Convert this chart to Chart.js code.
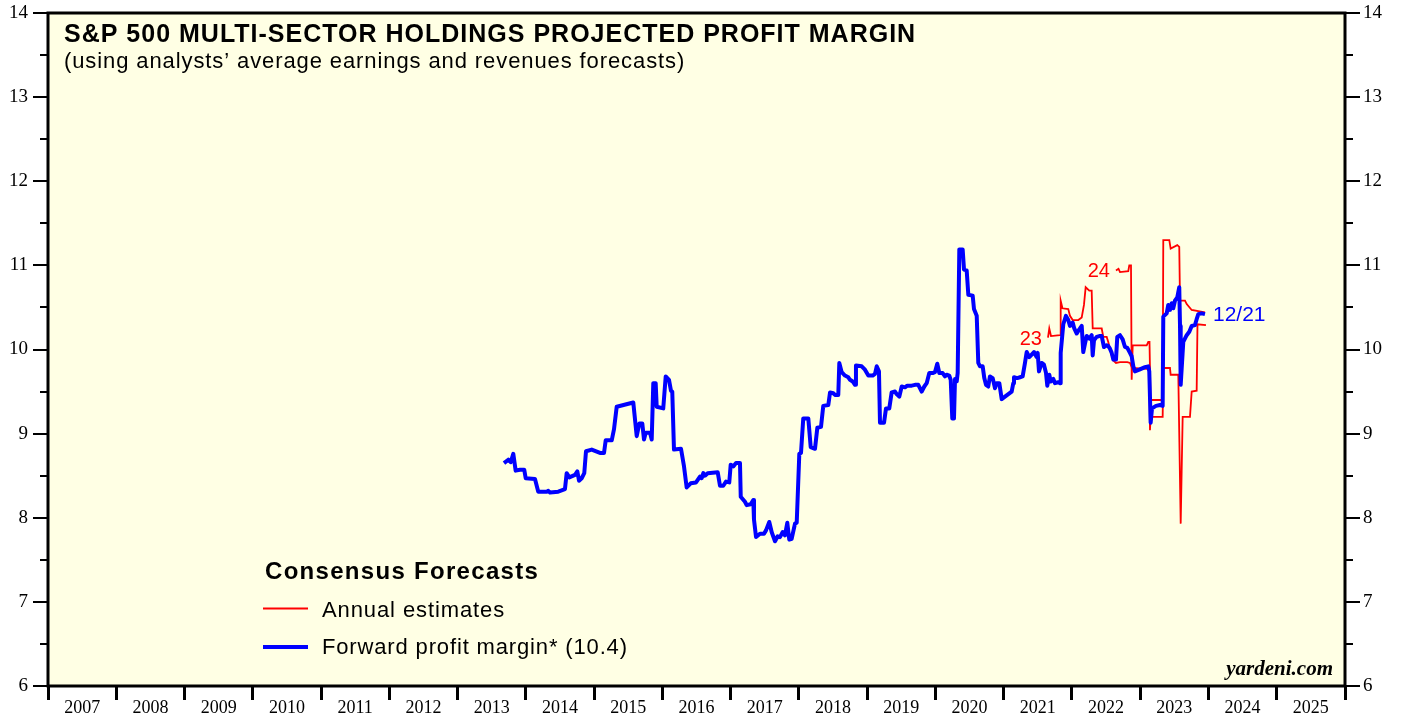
<!DOCTYPE html>
<html>
<head>
<meta charset="utf-8">
<script src="https://cdn.jsdelivr.net/npm/chart.js@4.4.1/dist/chart.umd.min.js"></script>
<style>
html,body{margin:0;padding:0;background:#ffffff;}
#wrap{width:1403px;height:719px;position:relative;}
</style>
</head>
<body>
<div id="wrap"><canvas id="c" width="1403" height="719"></canvas></div>
<script>
// ---------- DATA ----------
const yearLabels = ['2007','2008','2009','2010','2011','2012','2013','2014','2015','2016','2017','2018','2019','2020','2021','2022','2023','2024','2025'];
const yTickValues = [6,7,8,9,10,11,12,13,14];

// Forward profit margin (decimal year, %)
const blueDates = [2013.680,2013.743,2013.778,2013.816,2013.851,2013.914,2013.977,2013.998,2014.134,2014.182,
2014.306,2014.329,2014.354,2014.475,2014.573,2014.598,2014.637,2014.720,2014.754,2014.779,
2014.818,2014.856,2014.881,2014.965,2015.086,2015.145,2015.170,2015.258,2015.291,2015.331,
2015.574,2015.624,2015.662,2015.706,2015.731,2015.756,2015.819,2015.844,2015.867,2015.902,
2015.917,2016.013,2016.049,2016.097,2016.126,2016.145,2016.170,2016.273,2016.317,2016.356,
2016.415,2016.493,2016.551,2016.576,2016.600,2016.624,2016.664,2016.811,2016.844,2016.892,
2016.932,2016.980,2017.001,2017.039,2017.079,2017.137,2017.148,2017.210,2017.235,2017.294,
2017.332,2017.342,2017.372,2017.430,2017.489,2017.518,2017.566,2017.601,2017.650,2017.689,
2017.723,2017.763,2017.796,2017.830,2017.859,2017.894,2017.943,2017.968,2018.006,2018.031,
2018.064,2018.138,2018.173,2018.236,2018.270,2018.324,2018.357,2018.431,2018.456,2018.504,
2018.529,2018.577,2018.592,2018.627,2018.675,2018.724,2018.749,2018.788,2018.822,2018.836,
2018.920,2018.968,2019.017,2019.081,2019.115,2019.140,2019.173,2019.188,2019.247,2019.276,
2019.324,2019.359,2019.408,2019.432,2019.471,2019.506,2019.554,2019.588,2019.652,2019.701,
2019.749,2019.799,2019.837,2019.872,2019.910,2019.960,2019.993,2020.027,2020.057,2020.106,
2020.140,2020.165,2020.203,2020.224,2020.247,2020.272,2020.287,2020.312,2020.326,2020.350,
2020.399,2020.419,2020.458,2020.482,2020.546,2020.565,2020.605,2020.628,2020.653,2020.692,
2020.716,2020.741,2020.774,2020.799,2020.839,2020.873,2020.897,2020.936,2020.971,2021.019,
2021.068,2021.117,2021.141,2021.151,2021.199,2021.239,2021.278,2021.312,2021.337,2021.375,
2021.410,2021.444,2021.483,2021.498,2021.517,2021.557,2021.590,2021.620,2021.639,2021.668,
2021.689,2021.727,2021.752,2021.800,2021.825,2021.835,2021.873,2021.912,2021.946,2021.971,
2022.011,2022.034,2022.070,2022.108,2022.143,2022.166,2022.191,2022.216,2022.254,2022.289,
2022.304,2022.323,2022.362,2022.401,2022.436,2022.469,2022.509,2022.532,2022.557,2022.582,
2022.606,2022.645,2022.664,2022.704,2022.743,2022.777,2022.811,2022.850,2022.875,2022.899,
2022.923,2022.987,2023.070,2023.118,2023.133,2023.153,2023.173,2023.231,2023.290,2023.329,
2023.338,2023.388,2023.411,2023.436,2023.461,2023.484,2023.509,2023.543,2023.572,2023.583,
2023.593,2023.631,2023.681,2023.719,2023.754,2023.802,2023.827,2023.851,2023.900,2023.949];
const blueValues = [8.65,8.69,8.66,8.76,8.56,8.57,8.57,8.47,8.46,8.31,
8.31,8.32,8.30,8.31,8.34,8.53,8.48,8.51,8.55,8.44,
8.47,8.53,8.79,8.81,8.77,8.77,8.92,8.92,9.05,9.32,
9.37,8.97,9.12,9.12,8.93,9.01,9.01,8.93,9.60,9.60,
9.32,9.30,9.68,9.64,9.51,9.50,8.81,8.82,8.61,8.36,
8.41,8.42,8.49,8.47,8.53,8.50,8.53,8.54,8.38,8.38,
8.43,8.42,8.63,8.61,8.65,8.65,8.25,8.19,8.15,8.16,
8.21,7.98,7.77,7.81,7.81,7.85,7.95,7.83,7.72,7.78,
7.77,7.83,7.79,7.94,7.74,7.75,7.93,7.94,8.76,8.77,
9.18,9.18,8.84,8.82,9.07,9.08,9.33,9.34,9.49,9.48,
9.46,9.46,9.84,9.73,9.69,9.67,9.64,9.62,9.58,9.81,
9.80,9.76,9.69,9.69,9.71,9.80,9.74,9.13,9.13,9.30,
9.30,9.49,9.50,9.47,9.44,9.56,9.55,9.57,9.57,9.58,
9.58,9.50,9.56,9.60,9.72,9.72,9.73,9.83,9.72,9.72,
9.68,9.70,9.69,9.64,9.18,9.18,9.65,9.62,9.72,11.19,
11.19,10.95,10.94,10.65,10.64,10.48,10.40,9.84,9.80,9.80,
9.66,9.58,9.56,9.68,9.66,9.54,9.60,9.60,9.41,9.44,
9.47,9.50,9.60,9.67,9.66,9.67,9.68,9.84,9.97,9.91,
9.94,9.97,9.91,9.96,9.74,9.84,9.82,9.72,9.57,9.70,
9.62,9.65,9.60,9.61,9.60,9.96,10.30,10.40,10.35,10.28,
10.32,10.25,10.19,10.24,10.28,9.97,10.07,10.16,10.13,10.17,
9.93,10.11,10.15,10.16,10.16,10.03,10.05,10.04,10.01,9.96,
9.88,9.88,10.15,10.17,10.12,10.03,10.02,9.96,9.92,9.80,
9.74,9.76,9.79,9.80,9.74,9.13,9.30,9.33,9.34,9.33,
10.39,10.43,10.53,10.47,10.55,10.49,10.58,10.62,10.74,10.28,
9.58,10.09,10.17,10.21,10.28,10.29,10.36,10.42,10.43,10.42];

// Annual estimates: 2023
const est23Dates = [2021.649,2021.668,2021.693,2021.825,2021.835,2021.861,2021.946,2021.971,2022.011,2022.093,
2022.143,2022.176,2022.201,2022.254,2022.289,2022.304,2022.436,2022.459,2022.509,2022.532,
2022.582,2022.606,2022.645,2022.704,2022.811,2022.850,2022.880,2023.095,2023.133,2023.143,
2023.153,2023.329,2023.338,2023.436,2023.446,2023.558,2023.593,2023.622,2023.729,2023.754,
2023.827,2023.839,2023.963];
const est23Values = [10.14,10.25,10.16,10.17,10.58,10.49,10.48,10.40,10.35,10.35,
10.38,10.53,10.74,10.70,10.70,10.25,10.25,10.15,10.15,10.09,
9.93,9.87,9.84,9.85,9.85,9.84,9.78,9.77,9.78,9.04,
9.20,9.20,9.78,9.78,9.70,9.70,7.93,9.20,9.20,9.50,
9.51,10.30,10.29];

// Annual estimates: 2024
const est24Dates = [2022.645,2022.682,2022.704,2022.825,2022.840,2022.865,2022.875,2022.890,2023.095,2023.118,
2023.136,2023.151,2023.329,2023.338,2023.426,2023.446,2023.543,2023.572,2023.583,2023.656,
2023.681,2023.754,2023.949];
const est24Values = [10.94,10.96,10.92,10.93,11.00,11.00,9.64,10.05,10.05,10.09,
10.09,9.40,9.40,11.30,11.30,11.20,11.24,11.22,10.58,10.58,
10.54,10.47,10.44];

const toPoints = (xs, ys) => xs.map((x, i) => ({x: x, y: ys[i]}));

function spacedText(ctx, text, x, y, spacing) {
  if ('letterSpacing' in ctx) {
    ctx.letterSpacing = spacing + 'px';
    ctx.fillText(text, x, y);
    ctx.letterSpacing = '0px';
  } else {
    ctx.fillText(text, x, y);
  }
}

// ---------- DECORATION PLUGIN ----------
const decor = {
  id: 'decor',
  beforeDraw(chart) {
    const {ctx, chartArea: a} = chart;
    ctx.save();
    ctx.fillStyle = '#FFFFE4';
    ctx.fillRect(a.left, a.top, a.right - a.left, a.bottom - a.top);
    ctx.restore();
  },
  afterDraw(chart) {
    const {ctx, chartArea: a} = chart;
    const xs = chart.scales.x, ys = chart.scales.y;
    ctx.save();
    // minor y ticks (half units)
    ctx.strokeStyle = '#000';
    ctx.lineWidth = 2;
    for (let i = 0; i < yTickValues.length - 1; i++) {
      const py = Math.round(ys.getPixelForValue(yTickValues[i] + 0.5));
      ctx.beginPath();
      ctx.moveTo(a.left - 8, py); ctx.lineTo(a.left, py);
      ctx.moveTo(a.right, py); ctx.lineTo(a.right + 8, py);
      ctx.stroke();
    }
    // frame
    ctx.lineWidth = 3;
    ctx.strokeRect(a.left, a.top, a.right - a.left, a.bottom - a.top);

    // titles
    ctx.fillStyle = '#000';
    ctx.textAlign = 'left';
    ctx.textBaseline = 'alphabetic';
    ctx.font = 'bold 25px "Liberation Sans", Arial, sans-serif';
    spacedText(ctx, 'S&P 500 MULTI-SECTOR HOLDINGS PROJECTED PROFIT MARGIN', 64, 42, 1);
    ctx.font = '22px "Liberation Sans", Arial, sans-serif';
    spacedText(ctx, '(using analysts\u2019 average earnings and revenues forecasts)', 64, 68, 0.9);

    // legend
    ctx.font = 'bold 24px "Liberation Sans", Arial, sans-serif';
    spacedText(ctx, 'Consensus Forecasts', 265, 579, 1.3);
    ctx.lineCap = 'butt';
    ctx.strokeStyle = '#FF0000';
    ctx.lineWidth = 2;
    ctx.beginPath(); ctx.moveTo(263, 608.5); ctx.lineTo(308, 608.5); ctx.stroke();
    ctx.strokeStyle = '#0000FF';
    ctx.lineWidth = 4;
    ctx.beginPath(); ctx.moveTo(263, 647); ctx.lineTo(308, 647); ctx.stroke();
    ctx.font = '22px "Liberation Sans", Arial, sans-serif';
    ctx.fillStyle = '#000';
    spacedText(ctx, 'Annual estimates', 322, 617, 0.9);
    spacedText(ctx, 'Forward profit margin* (10.4)', 322, 654, 0.85);

    // series annotations anchored on data
    ctx.font = '20px "Liberation Sans", Arial, sans-serif';
    ctx.fillStyle = '#FF0000';
    ctx.textAlign = 'right';
    ctx.fillText('23', xs.getPixelForValue(est23Dates[0]) - 6, ys.getPixelForValue(est23Values[0]) + 7);
    ctx.fillText('24', xs.getPixelForValue(est24Dates[0]) - 6, ys.getPixelForValue(est24Values[0]) + 7);
    ctx.fillStyle = '#0000FF';
    ctx.textAlign = 'left';
    ctx.font = '21px "Liberation Sans", Arial, sans-serif';
    const lb = blueDates.length - 1;
    ctx.fillText('12/21', xs.getPixelForValue(blueDates[lb]) + 8, ys.getPixelForValue(blueValues[lb]) + 7);

    // source
    ctx.fillStyle = '#000';
    ctx.textAlign = 'right';
    ctx.font = 'italic bold 21px "Liberation Serif", "Times New Roman", serif';
    ctx.fillText('yardeni.com', 1333, 675);
    ctx.restore();
  }
};

const yAxisCommon = {
  min: 6, max: 14,
  ticks: {
    stepSize: 1,
    color: '#000',
    font: {family: '"Liberation Serif", "Times New Roman", serif', size: 19, lineHeight: 0.8},
    callback: (v) => String(v)
  },
  grid: {drawOnChartArea: false, tickLength: 15, lineWidth: 2, color: '#000'},
  border: {display: false}
};

new Chart(document.getElementById('c'), {
  type: 'line',
  data: {
    datasets: [
      {label: 'Forward profit margin* (10.4)', data: toPoints(blueDates, blueValues), borderColor: '#0000FF', borderWidth: 4, pointRadius: 0, tension: 0, order: 0, borderJoinStyle: 'round'},
      {label: '2023 estimates', data: toPoints(est23Dates, est23Values), borderColor: '#FF0000', borderWidth: 1.8, pointRadius: 0, tension: 0, order: 1},
      {label: '2024 estimates', data: toPoints(est24Dates, est24Values), borderColor: '#FF0000', borderWidth: 1.8, pointRadius: 0, tension: 0, order: 1}
    ]
  },
  options: {
    responsive: false,
    animation: false,
    devicePixelRatio: 1,
    layout: {padding: {top: 13, left: 0, right: 0, bottom: 0}},
    plugins: {legend: {display: false}, tooltip: {enabled: false}, title: {display: false}},
    scales: {
      x: {
        type: 'linear',
        min: 2007, max: 2026,
        afterBuildTicks: (scale) => {
          const t = [];
          yearLabels.forEach((yl) => { t.push({value: Number(yl)}); t.push({value: Number(yl) + 0.5}); });
          t.push({value: Number(yearLabels[yearLabels.length - 1]) + 1});
          scale.ticks = t;
        },
        afterFit: (scale) => { scale.height = 33; },
        ticks: {
          autoSkip: false, maxRotation: 0, minRotation: 0, padding: -3,
          color: '#000',
          font: {family: '"Liberation Serif", "Times New Roman", serif', size: 18},
          callback: (v) => Number.isInteger(v) ? '' : yearLabels[Math.floor(v) - 2007]
        },
        grid: {
          drawOnChartArea: false, tickLength: 14, lineWidth: 3,
          color: (c) => (c.tick && !Number.isInteger(c.tick.value)) ? 'rgba(0,0,0,0)' : '#000'
        },
        border: {display: false}
      },
      y: Object.assign({}, yAxisCommon, {position: 'left', afterFit: (s) => { s.width = 48; }, ticks: Object.assign({}, yAxisCommon.ticks, {padding: 5})}),
      y2: Object.assign({}, yAxisCommon, {position: 'right', afterFit: (s) => { s.width = 58; }, ticks: Object.assign({}, yAxisCommon.ticks, {padding: 3})})
    }
  },
  plugins: [decor]
});
</script>
</body>
</html>
